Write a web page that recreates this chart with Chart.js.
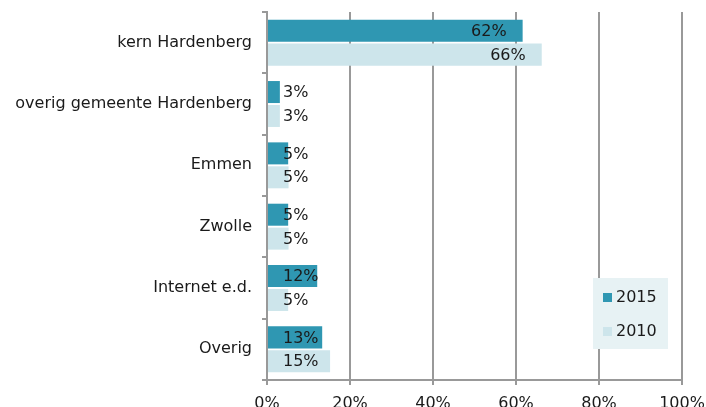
<!DOCTYPE html>
<html>
<head>
<meta charset="utf-8">
<script src="https://cdn.jsdelivr.net/npm/chart.js@4"></script>
<style>
  html, body { margin: 0; padding: 0; background: #fff; }
  #wrap { width: 706px; height: 407px; }
</style>
</head>
<body>
<div id="wrap"><canvas id="myChart" width="706" height="407"></canvas></div>
<script>
let categories = ["kern Hardenberg", "overig gemeente Hardenberg", "Emmen", "Zwolle", "Internet e.d.", "Overig"];
let values2015 = [61.6, 3.1, 5.1, 5.1, 12.1, 13.3];
let values2010 = [66.2, 3.1, 5.2, 5.2, 5.1, 15.2];
let xTicks = [0, 20, 40, 60, 80, 100];

let dark = "#2f97b2";
let light = "#cde5eb";
let gridCol = "#999999";
let font = "DejaVu Sans";

// value labels: inside the bar end, but never closer than 16px to the axis
let labelPlugin = {
    id: "barLabels",
    afterDatasetsDraw: function (chart) {
        let c = chart.ctx;
        let base = chart.scales.x.getPixelForValue(0);
        c.save();
        c.font = "16px " + font;
        c.fillStyle = "#1a1a1a";
        c.textBaseline = "middle";
        chart.data.datasets.forEach(function (ds, i) {
            chart.getDatasetMeta(i).data.forEach(function (bar, j) {
                let txt = Math.round(ds.data[j]) + "%";
                let w = c.measureText(txt).width;
                let x = Math.max(base + 16, bar.x - 16 - w);
                c.fillText(txt, x, bar.y + 1);
            });
        });
        c.restore();
    },
};

// legend box inside the plot area
let legendPlugin = {
    id: "boxLegend",
    afterDraw: function (chart) {
        let c = chart.ctx;
        c.save();
        c.fillStyle = "#e7f2f4";
        c.fillRect(593, 278, 75, 71);
        let items = [["2015", dark, 298], ["2010", light, 332]];
        c.font = "16px " + font;
        c.textBaseline = "middle";
        items.forEach(function (it) {
            c.fillStyle = it[1];
            c.fillRect(603, it[2] - 5, 9, 9);
            c.fillStyle = "#1a1a1a";
            c.fillText(it[0], 616, it[2]);
        });
        c.restore();
    },
};

let ctx = document.getElementById("myChart").getContext("2d");
let chart = new Chart(ctx, {
    type: "bar",
    data: {
        labels: categories,
        datasets: [
            { label: "2015", data: values2015, backgroundColor: dark },
            { label: "2010", data: values2010, backgroundColor: light },
        ],
    },
    plugins: [labelPlugin, legendPlugin],
    options: {
        indexAxis: "y",
        responsive: false,
        animation: false,
        barPercentage: 0.92,
        categoryPercentage: 0.78,
        layout: { padding: { top: 12, right: 24, left: 0, bottom: 0 } },
        plugins: { legend: { display: false }, tooltip: { enabled: false } },
        scales: {
            x: {
                min: 0,
                max: 100,
                afterBuildTicks: function (s) {
                    s.ticks = xTicks.map(function (v) { return { value: v }; });
                },
                afterFit: function (s) {
                    s.height = 27;
                    s.paddingLeft = 0;
                    s.paddingRight = 0;
                },
                ticks: {
                    callback: function (v) { return v + "%"; },
                    font: { family: font, size: 16 },
                    color: "#1a1a1a",
                    padding: 9,
                    maxRotation: 0,
                },
                grid: { color: gridCol, lineWidth: 2, tickLength: 5 },
                border: { color: gridCol, width: 2 },
            },
            y: {
                afterFit: function (s) {
                    s.width = 267;
                    s.paddingTop = 0;
                    s.paddingBottom = 0;
                },
                ticks: {
                    font: { family: font, size: 16 },
                    color: "#1a1a1a",
                    padding: 10,
                },
                grid: { offset: true, drawOnChartArea: false, color: gridCol, lineWidth: 2, tickLength: 5 },
                border: { color: gridCol, width: 2 },
            },
        },
    },
});
</script>
</body>
</html>
